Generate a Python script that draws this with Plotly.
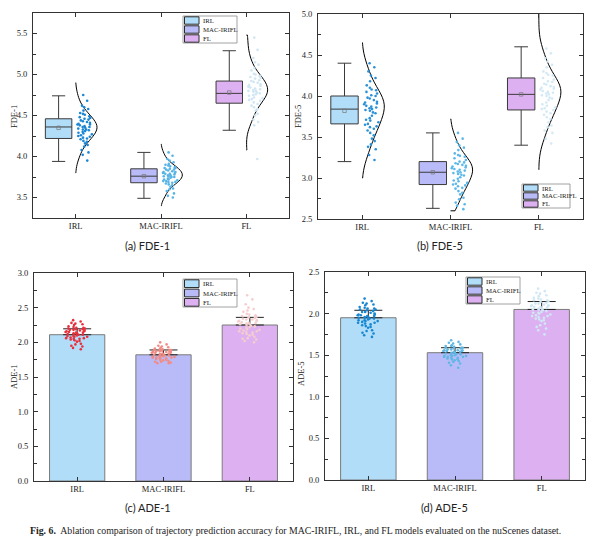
import plotly.graph_objects as go

# window size and the page's default body margin
WIN_W, WIN_H = 599, 541
OFF = 8
W, H = WIN_W - OFF, WIN_H - OFF

categories = ["IRL", "MAC-IRIFL", "FL"]

# ---- FDE box statistics ----
fde1_q1 = [4.22, 3.68, 4.65]
fde1_median = [4.36, 3.76, 4.77]
fde1_q3 = [4.46, 3.85, 4.92]
fde1_low = [3.94, 3.49, 4.32]
fde1_high = [4.74, 4.05, 5.29]
fde1_mean = [4.35, 3.76, 4.78]

fde5_q1 = [3.66, 2.92, 3.83]
fde5_median = [3.84, 3.07, 4.02]
fde5_q3 = [4.00, 3.20, 4.22]
fde5_low = [3.20, 2.63, 3.40]
fde5_high = [4.40, 3.55, 4.60]
fde5_mean = [3.82, 3.07, 4.02]

# span of the half-violin curves
fde1_span = [[3.80, 4.90], [3.40, 4.15], [4.08, 5.48]]
fde5_span = [[3.00, 4.65], [2.60, 3.72], [3.10, 5.00]]

# ---- FDE samples (estimated from the scatter clouds) ----
fde1_irl = [4.36, 4.41, 4.28, 4.52, 4.19, 4.33, 4.45, 4.62, 4.08, 4.37, 4.25, 4.49, 4.31, 4.56, 4.14, 4.39, 4.22,
            4.43, 4.68, 4.34, 4.27, 4.47, 4.12, 4.35, 4.58, 4.24, 4.40, 4.02, 4.30, 4.53, 4.18, 4.44, 4.38, 4.21,
            4.75, 4.32, 4.48, 4.16, 4.42, 4.29, 4.60, 4.05, 4.36, 4.51, 4.26, 4.46, 3.95, 4.33, 4.39, 4.23]
fde1_mac = [3.77, 3.81, 3.72, 3.88, 3.66, 3.79, 3.84, 3.95, 3.61, 3.75, 3.70, 3.86, 3.74, 3.91, 3.63, 3.80, 3.69,
            3.83, 4.01, 3.76, 3.71, 3.87, 3.58, 3.78, 3.93, 3.68, 3.82, 3.52, 3.73, 3.89, 3.65, 3.85, 3.79, 3.67,
            4.05, 3.75, 3.90, 3.60, 3.80, 3.72, 3.97, 3.55, 3.77, 3.86, 3.70, 3.84, 3.50, 3.76, 3.81, 3.69]
fde1_fl = [4.80, 4.86, 4.71, 4.98, 4.60, 4.83, 4.92, 5.12, 4.52, 4.78, 4.68, 4.95, 4.75, 5.05, 4.56, 4.84, 4.66,
           4.90, 5.20, 4.79, 4.70, 4.96, 4.45, 4.81, 5.08, 4.64, 4.88, 4.38, 4.74, 5.01, 4.58, 4.93, 4.82, 4.62,
           5.30, 4.77, 4.97, 4.50, 4.85, 4.72, 5.15, 4.42, 4.80, 5.00, 4.69, 4.91, 3.97, 4.76, 4.87, 5.45]

fde5_irl = [3.84, 3.92, 3.70, 4.10, 3.52, 3.88, 4.01, 4.25, 3.41, 3.80, 3.65, 4.05, 3.76, 4.18, 3.48, 3.90, 3.62,
            3.97, 4.35, 3.83, 3.68, 4.07, 3.35, 3.86, 4.22, 3.58, 3.95, 3.28, 3.73, 4.13, 3.55, 4.00, 3.87, 3.60,
            4.40, 3.79, 4.08, 3.45, 3.93, 3.71, 4.30, 3.38, 3.85, 4.03, 3.66, 3.98, 3.22, 3.82, 3.91, 3.63]
fde5_mac = [3.07, 3.13, 2.96, 3.28, 2.84, 3.10, 3.20, 3.40, 2.76, 3.04, 2.92, 3.24, 3.01, 3.34, 2.80, 3.12, 2.90,
            3.17, 3.48, 3.06, 2.94, 3.26, 2.70, 3.09, 3.37, 2.87, 3.15, 2.66, 2.99, 3.30, 2.82, 3.19, 3.11, 2.88,
            3.55, 3.03, 3.27, 2.74, 3.14, 2.97, 3.44, 2.68, 3.08, 3.22, 2.93, 3.18, 2.62, 3.05, 3.16, 2.91]
fde5_fl = [4.02, 4.10, 3.88, 4.28, 3.72, 4.06, 4.18, 4.42, 3.62, 3.98, 3.84, 4.22, 3.95, 4.35, 3.68, 4.08, 3.81,
           4.14, 4.52, 4.01, 3.86, 4.25, 3.55, 4.04, 4.38, 3.77, 4.12, 3.48, 3.92, 4.30, 3.74, 4.17, 4.05, 3.79,
           4.58, 3.97, 4.26, 3.64, 4.11, 3.90, 4.46, 3.58, 4.03, 4.20, 3.85, 4.15, 3.42, 4.00, 4.09, 3.83]

# ---- ADE bars / error bars ----
ade1_bar = [2.11, 1.82, 2.25]
ade1_err = [0.085, 0.07, 0.11]
ade5_bar = [1.95, 1.53, 2.05]
ade5_err = [0.09, 0.06, 0.095]

ade1_irl = [2.13, 2.17, 2.08, 2.22, 2.03, 2.15, 2.19, 2.27, 1.98, 2.11, 2.06, 2.20, 2.10, 2.25, 2.01, 2.16, 2.05,
            2.18, 2.30, 2.12, 2.07, 2.21, 1.95, 2.14, 2.26, 2.04, 2.17, 1.92, 2.09, 2.23, 2.02, 2.19, 2.15, 2.05,
            2.32, 2.11, 2.20, 1.97, 2.16, 2.08, 2.28, 1.94, 2.13, 2.21, 2.06, 2.18, 1.90, 2.12, 2.14, 2.09]
ade1_mac = [1.83, 1.86, 1.79, 1.90, 1.75, 1.84, 1.88, 1.94, 1.72, 1.81, 1.77, 1.89, 1.80, 1.92, 1.74, 1.85, 1.78,
            1.87, 1.97, 1.82, 1.78, 1.90, 1.71, 1.84, 1.93, 1.76, 1.86, 1.70, 1.80, 1.91, 1.75, 1.88, 1.85, 1.77,
            2.00, 1.81, 1.89, 1.73, 1.86, 1.79, 1.95, 1.72, 1.83, 1.89, 1.78, 1.87, 1.70, 1.82, 1.85, 1.79]
ade1_fl = [2.26, 2.31, 2.19, 2.40, 2.11, 2.28, 2.35, 2.48, 2.05, 2.23, 2.16, 2.37, 2.21, 2.44, 2.08, 2.30, 2.14,
           2.33, 2.55, 2.25, 2.17, 2.38, 2.02, 2.27, 2.46, 2.12, 2.32, 2.00, 2.20, 2.41, 2.10, 2.34, 2.29, 2.15,
           2.68, 2.24, 2.36, 2.06, 2.31, 2.18, 2.50, 2.04, 2.26, 2.39, 2.16, 2.33, 2.62, 2.22, 2.28, 2.13]

ade5_irl = [1.96, 2.00, 1.91, 2.07, 1.85, 1.97, 2.03, 2.12, 1.80, 1.94, 1.89, 2.05, 1.93, 2.10, 1.83, 1.99, 1.88,
            2.02, 2.15, 1.95, 1.90, 2.06, 1.77, 1.98, 2.11, 1.86, 2.01, 1.74, 1.92, 2.08, 1.84, 2.04, 1.98, 1.87,
            2.18, 1.94, 2.05, 1.79, 1.99, 1.91, 2.13, 1.76, 1.96, 2.06, 1.89, 2.02, 1.72, 1.95, 1.97, 1.92]
ade5_mac = [1.53, 1.56, 1.49, 1.61, 1.45, 1.54, 1.58, 1.64, 1.42, 1.51, 1.47, 1.59, 1.50, 1.63, 1.44, 1.55, 1.48,
            1.57, 1.66, 1.52, 1.48, 1.60, 1.40, 1.54, 1.62, 1.46, 1.56, 1.38, 1.50, 1.61, 1.45, 1.58, 1.55, 1.47,
            1.68, 1.51, 1.59, 1.43, 1.56, 1.49, 1.65, 1.41, 1.53, 1.59, 1.48, 1.57, 1.35, 1.52, 1.55, 1.49]
ade5_fl = [2.06, 2.10, 2.00, 2.18, 1.93, 2.07, 2.14, 2.24, 1.88, 2.03, 1.97, 2.16, 2.02, 2.21, 1.91, 2.09, 1.96,
           2.12, 2.27, 2.05, 1.99, 2.17, 1.84, 2.08, 2.22, 1.94, 2.11, 1.80, 2.01, 2.19, 1.92, 2.13, 2.09, 1.95,
           2.30, 2.04, 2.15, 1.86, 2.10, 1.98, 2.25, 1.82, 2.06, 2.16, 1.97, 2.12, 1.75, 2.05, 2.08, 2.01]

# styles
fill_colors = ["#b1ddf9", "#b9bbf8", "#ddb1f1"]
fde1_pts = ["#1a86d4", "#58b4e6", "#cfe6f3"]
fde5_pts = ["#2a90d8", "#5cb8e8", "#d3e9f5"]
ade1_pts = ["#e8303c", "#f28b84", "#f6cdce"]
ade5_pts = ["#1787d2", "#5fb7e4", "#d0e8f5"]
SERIF = "Liberation Serif"
AX = "#333333"
TXT = "#222222"


def px(x):
    # window pixel -> paper fraction
    return (x - OFF) / W


def py(y):
    return 1 - (y - OFF) / H


fig = go.Figure()

positions = [1, 2, 3]


def add_fde(n, samples, spans, q1, med, q3, lo, hi, mean, pt_colors):
    xa, ya = ("x", "y") if n == 1 else (f"x{n}", f"y{n}")
    for i, pos in enumerate(positions):
        fig.add_trace(go.Violin(
            x=[pos] * len(samples[i]), y=samples[i], side="positive", width=0.5,
            points="all", pointpos=0.45, jitter=0.42, spanmode="manual", span=spans[i],
            scalemode="width", fillcolor="rgba(0,0,0,0)", line=dict(color="black", width=1),
            marker=dict(size=2.6, color=pt_colors[i]), showlegend=False,
            xaxis=xa, yaxis=ya))
        fig.add_trace(go.Box(
            x=[pos - 0.2], q1=[q1[i]], median=[med[i]], q3=[q3[i]],
            lowerfence=[lo[i]], upperfence=[hi[i]], width=0.31, whiskerwidth=0.5,
            fillcolor=fill_colors[i], line=dict(color="#3a3a3a", width=1),
            boxpoints=False, showlegend=False, xaxis=xa, yaxis=ya))
    fig.add_trace(go.Scatter(
        x=[p - 0.2 for p in positions], y=mean, mode="markers",
        marker=dict(symbol="square-open", size=3.5, color="#777777", line=dict(width=0.7)),
        showlegend=False, xaxis=xa, yaxis=ya))


def add_ade(n, bars, errs, samples, pt_colors):
    xa, ya = f"x{n}", f"y{n}"
    for i, pos in enumerate(positions):
        fig.add_trace(go.Bar(
            x=[pos], y=[bars[i]], width=0.64, marker=dict(color=fill_colors[i], line=dict(color="#7a7a7a", width=1)),
            error_y=dict(type="data", symmetric=False, array=[errs[i]], arrayminus=[0],
                         color=TXT, thickness=1, width=14),
            showlegend=False, xaxis=xa, yaxis=ya))
        fig.add_trace(go.Box(
            x=[pos] * len(samples[i]), y=samples[i], width=0.64, boxpoints="all", pointpos=0, jitter=0.45,
            fillcolor="rgba(0,0,0,0)", line=dict(color="rgba(0,0,0,0)", width=0),
            marker=dict(size=2.6, color=pt_colors[i]), showlegend=False, xaxis=xa, yaxis=ya))


add_fde(1, [fde1_irl, fde1_mac, fde1_fl], fde1_span, fde1_q1, fde1_median, fde1_q3, fde1_low, fde1_high,
        fde1_mean, fde1_pts)
add_fde(2, [fde5_irl, fde5_mac, fde5_fl], fde5_span, fde5_q1, fde5_median, fde5_q3, fde5_low, fde5_high,
        fde5_mean, fde5_pts)
add_ade(3, ade1_bar, ade1_err, [ade1_irl, ade1_mac, ade1_fl], ade1_pts)
add_ade(4, ade5_bar, ade5_err, [ade5_irl, ade5_mac, ade5_fl], ade5_pts)

# panel geometry in window pixels: (x0, x1, y0, y1, y-range)
panels = [
    (33, 289, 13, 218, [3.25, 5.75]),
    (318, 583, 14, 219, [2.5, 5.0]),
    (34, 293, 273, 481, [0, 3.0]),
    (325, 585, 272, 480, [0, 2.5]),
]

layout = dict(
    width=W, height=H, margin=dict(l=0, r=0, t=0, b=0),
    paper_bgcolor="white", plot_bgcolor="white", showlegend=False,
    barmode="overlay", boxmode="overlay", violinmode="overlay",
    font=dict(family=SERIF, size=8.5, color=TXT),
)
for k, (x0, x1, y0, y1, yr) in enumerate(panels, start=1):
    sfx = "" if k == 1 else str(k)
    layout["xaxis" + sfx] = dict(
        domain=[px(x0), px(x1)], anchor="y" + sfx, range=[0.5, 3.5],
        tickvals=positions, ticktext=categories, ticks="inside", ticklen=4,
        tickcolor=AX, showline=True, linecolor=AX, linewidth=1, mirror="allticks",
        showgrid=False, zeroline=False, automargin=False,
        tickfont=dict(family=SERIF, size=8.5, color=TXT))
    layout["yaxis" + sfx] = dict(
        domain=[py(y1), py(y0)], anchor="x" + sfx, range=yr, dtick=0.5, tickformat=".1f",
        ticks="inside", ticklen=4, tickcolor=AX, showline=True, linecolor=AX, linewidth=1,
        mirror="allticks", showgrid=False, zeroline=False, automargin=False,
        ticklabelstandoff=3,
        minor=dict(dtick=0.25, ticks="inside", ticklen=3, tickcolor=AX, showgrid=False),
        tickfont=dict(family=SERIF, size=8.5, color=TXT))
fig.update_layout(**layout)

annotations = []
shapes = []


def note(text, x, y, size, family=SERIF, xanchor="center", angle=0):
    annotations.append(dict(text=text, x=px(x), y=py(y), xref="paper", yref="paper", showarrow=False,
                            xanchor=xanchor, yanchor="middle", textangle=angle,
                            font=dict(family=family, size=size, color=TXT)))


# axis titles
for text, x, y in [("FDE-1", 14, 116), ("FDE-5", 298, 117), ("ADE-1", 14, 377), ("ADE-5", 301, 374)]:
    note(text, x, y, 8.5, angle=-90)

# panel captions
for text, x, y in [("(a) FDE-1", 147, 246), ("(b) FDE-5", 440, 245), ("(c) ADE-1", 148, 507),
                   ("(d) ADE-5", 444, 507)]:
    note(text, x, y, 11, family="Lato")

note("<b>Fig. 6.</b>  Ablation comparison of trajectory prediction accuracy for MAC-IRIFL, IRL, and FL models "
     "evaluated on the nuScenes dataset.", 28, 530, 9.8, xanchor="left")


def draw_legend(x0, y0, x1, y1):
    shapes.append(dict(type="rect", xref="paper", yref="paper", x0=px(x0), x1=px(x1), y0=py(y1), y1=py(y0),
                       line=dict(color="#8c8c8c", width=0.8), fillcolor="white"))
    row = (y1 - y0) / 3
    for i, name in enumerate(categories):
        cy = y0 + row * (i + 0.5)
        shapes.append(dict(type="rect", xref="paper", yref="paper", x0=px(x0 + 1.5), x1=px(x0 + 16),
                           y0=py(cy + row / 2 - 0.8), y1=py(cy - row / 2 + 0.8),
                           line=dict(color="#2a2a2a", width=1), fillcolor=fill_colors[i]))
        note(name, x0 + 18, cy, 6.8, xanchor="left")


draw_legend(183, 16, 237, 43)
draw_legend(522, 184, 570, 208)
draw_legend(183, 279, 237, 307)
draw_legend(466, 277, 520, 304)

fig.update_layout(annotations=annotations, shapes=shapes)

fig.write_html("out.html")
